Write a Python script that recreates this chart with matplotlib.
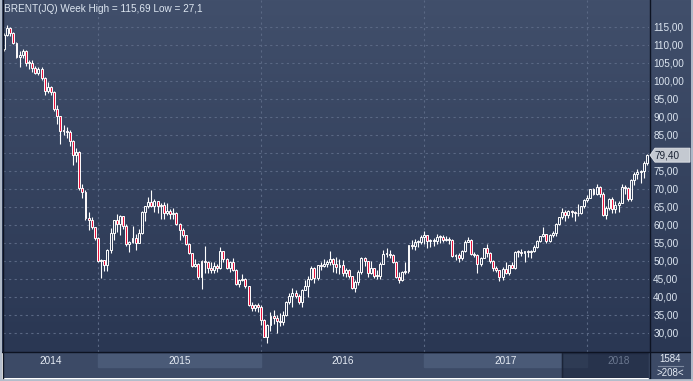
import numpy as np
import matplotlib.pyplot as plt
from matplotlib.patches import Rectangle, Polygon

plt.rcParams['font.family'] = ['Liberation Sans', 'DejaVu Sans']

# weekly candles, first week starts 9 Jun 2014
first_open = 109.0
close = [
    112.9, 114.8, 113.3, 110.6, 106.7, 107.2, 108.4, 105.0, 105.0, 103.5, 102.3, 103.2, 100.8, 97.1, 98.4,
    97.0, 92.3, 90.2, 86.2, 86.1, 85.9, 83.4, 79.4, 80.4, 70.2, 69.1, 61.9, 61.4, 59.5, 56.4,
    # 2015
    50.1, 50.2, 48.8, 53.0, 57.8, 61.5, 60.2, 62.6, 59.7, 54.7, 55.3, 56.4, 55.0, 57.9, 63.5, 65.3, 66.5, 65.4,
    66.8, 65.4, 65.6, 63.3, 63.9, 63.0, 63.3, 60.3, 58.7, 57.1, 54.6, 52.2, 48.6, 49.2, 45.5, 50.1, 49.6, 48.1,
    47.5, 48.6, 48.1, 52.7, 50.5, 48.0, 49.6, 47.4, 43.6, 44.7, 44.9, 43.0, 37.9, 36.9, 37.9, 37.3,
    # 2016
    33.6, 28.9, 32.2, 34.7, 34.1, 33.4, 33.0, 35.1, 38.7, 40.4, 41.2, 40.4, 38.7, 41.9, 43.1, 45.1, 48.1, 45.4,
    48.8, 48.7, 49.3, 49.6, 50.5, 49.2, 48.4, 49.0, 46.8, 47.6, 45.7, 42.5, 44.3, 47.0, 50.9, 49.9, 46.8, 48.0,
    45.8, 45.9, 49.2, 51.9, 51.95, 51.8, 49.7, 45.6, 44.75, 46.9, 47.2, 54.5, 54.3, 55.2, 55.2, 56.8,
    # 2017
    57.1, 55.45, 55.5, 55.5, 56.8, 56.7, 55.8, 56.0, 55.9, 51.4, 51.8, 50.8, 52.8, 55.2, 55.9, 52.0, 51.7, 49.1,
    50.8, 53.6, 52.15, 49.95, 48.15, 47.4, 45.5, 47.9, 46.7, 48.9, 48.1, 52.5, 52.4, 52.1, 52.7, 52.4, 52.75,
    53.8, 55.6, 56.9, 57.5, 55.6, 57.2, 57.75, 60.4, 62.1, 63.5, 62.7, 63.9, 63.7, 63.4, 63.2, 65.25, 66.9,
    # 2018
    67.6, 69.9, 68.6, 70.5, 68.6, 62.8, 64.8, 67.3, 64.4, 65.5, 66.2, 70.45, 70.3, 67.1, 72.6, 74.1, 74.6,
    74.9, 77.1, 79.4,
]
high = [
    113.3, 115.69, 115.0, 113.5, 110.9, 108.4, 108.9, 108.6, 105.8, 105.8, 104.2, 103.9, 103.8, 101.0, 99.7,
    98.6, 97.3, 93.3, 90.3, 87.8, 87.3, 86.3, 83.6, 81.4, 80.6, 71.5, 69.6, 63.6, 62.2, 59.5,
    # 2015
    56.6, 50.6, 50.2, 53.3, 59.1, 61.5, 63.0, 62.9, 62.6, 60.3, 55.6, 59.7, 57.6, 59.0, 64.0, 65.4, 67.8, 69.6,
    67.1, 66.8, 66.0, 66.4, 66.1, 64.5, 64.6, 63.5, 60.6, 59.3, 57.2, 55.0, 52.3, 50.6, 49.4, 50.2, 54.2, 50.0,
    49.8, 49.8, 49.2, 54.0, 52.8, 50.7, 50.0, 50.9, 47.7, 45.1, 46.3, 45.3, 43.0, 38.6, 38.1, 38.2,
    # 2016
    37.8, 34.0, 32.4, 35.8, 36.4, 35.0, 35.6, 36.0, 38.9, 41.2, 42.5, 41.9, 40.9, 42.2, 44.7, 45.9, 48.5, 48.2,
    48.9, 49.6, 50.5, 50.2, 52.9, 50.9, 51.2, 50.5, 50.3, 48.0, 47.9, 45.8, 44.8, 47.4, 51.2, 51.2, 50.0, 49.9,
    48.1, 47.6, 49.6, 53.0, 53.7, 53.1, 52.0, 49.9, 47.0, 47.3, 49.8, 54.5, 55.9, 56.2, 55.7, 57.1,
    # 2017
    58.4, 57.1, 56.2, 56.4, 57.4, 57.3, 57.3, 57.0, 56.8, 56.1, 52.0, 52.1, 53.1, 55.9, 56.7, 56.0, 52.4, 51.9,
    51.0, 53.7, 54.7, 52.6, 50.2, 48.6, 47.5, 48.3, 49.7, 49.0, 49.8, 52.7, 53.0, 53.3, 52.7, 53.1, 53.1,
    54.5, 55.7, 56.9, 59.5, 57.5, 57.4, 58.4, 60.5, 62.3, 64.6, 64.1, 64.1, 64.3, 63.8, 65.8, 65.3, 67.1,
    # 2018
    68.3, 70.05, 70.4, 71.3, 70.8, 69.2, 65.2, 67.4, 67.7, 66.6, 66.6, 71.3, 71.0, 70.6, 72.7, 74.8, 75.5,
    75.3, 77.8, 79.6,
]
low = [
    108.4, 112.5, 112.6, 110.2, 106.3, 104.0, 106.5, 104.3, 103.3, 102.4, 101.9, 101.6, 100.3, 96.2, 96.8,
    96.2, 91.6, 88.1, 82.6, 84.9, 84.2, 82.0, 76.8, 77.5, 69.8, 67.5, 61.3, 58.5, 59.0, 55.9,
    # 2015
    49.7, 45.2, 47.3, 47.1, 52.2, 55.7, 58.1, 57.3, 59.0, 54.3, 52.5, 55.1, 53.0, 54.9, 57.6, 61.2, 64.8, 65.0,
    63.5, 63.4, 61.6, 61.6, 62.8, 61.6, 61.6, 60.0, 55.9, 56.8, 54.4, 51.9, 48.2, 48.4, 45.1, 42.2, 46.6, 46.7,
    46.8, 46.6, 47.0, 47.9, 49.6, 47.8, 47.0, 47.1, 43.3, 42.7, 44.4, 42.5, 37.6, 36.0, 36.1, 35.9,
    # 2016
    32.2, 28.8, 27.1, 30.6, 32.4, 30.0, 32.0, 32.2, 34.7, 38.1, 37.3, 39.7, 38.1, 37.3, 41.9, 40.1, 44.6, 43.8,
    44.8, 47.6, 48.2, 48.4, 49.0, 46.9, 46.6, 46.4, 45.8, 45.6, 45.4, 42.2, 41.5, 43.2, 46.5, 48.5, 45.6, 46.4,
    45.4, 45.1, 45.1, 49.2, 51.0, 50.7, 49.4, 45.4, 43.9, 44.5, 46.3, 46.6, 53.3, 53.0, 54.0, 54.8,
    # 2017
    54.6, 53.6, 53.9, 54.3, 54.8, 54.9, 55.2, 55.6, 54.8, 51.2, 50.3, 49.7, 50.3, 52.6, 55.2, 51.7, 51.0, 46.6,
    48.6, 50.8, 51.0, 49.4, 47.3, 46.9, 44.4, 44.8, 46.3, 46.2, 48.0, 47.9, 51.2, 51.4, 49.7, 51.2, 50.7,
    52.4, 53.5, 55.4, 56.7, 55.1, 55.3, 56.8, 57.0, 59.9, 61.8, 61.1, 62.0, 62.1, 61.1, 62.5, 63.1, 64.6,
    # 2018
    66.3, 67.4, 68.2, 68.3, 67.8, 62.4, 61.8, 64.3, 63.3, 63.4, 63.6, 66.0, 68.7, 66.6, 66.7, 71.2, 72.7,
    71.8, 73.0, 76.8,
]
years = ['2014', '2015', '2016', '2017', '2018']
weeks_in_year = [30, 52, 52, 52, 20]
price_ticks = list(range(30, 120, 5))
last_price = 79.40
title = 'BRENT(JQ) Week High = 115,69 Low = 27,1'

W, H = 693, 381
BG_TOP, BG_BOT = '#414f6b', '#2a3753'
STRIP = '#3c4a66'
BAND = '#4a5a77'
GRID = '#5a6884'
TXT = '#dde6f1'
RED = '#e8123c'

c = np.array(close)
o = np.array([first_open] + close[:-1])
hi = np.array(high)
lo = np.array(low)
n = len(c)
idx = np.arange(n)
bounds = np.cumsum([0] + weeks_in_year)

fig = plt.figure(figsize=(W / 100, H / 100), dpi=100)

# background gradient, pixel coordinates
bg = fig.add_axes([0, 0, 1, 1], zorder=-10)
grad = np.linspace(0, 1, 256)[:, None]
top = np.array(plt.matplotlib.colors.to_rgb(BG_TOP))
bot = np.array(plt.matplotlib.colors.to_rgb(BG_BOT))
img = top[None, None, :] * (1 - grad[:, :, None]) + bot[None, None, :] * grad[:, :, None]
bg.imshow(img, extent=[0, W, 352, 0], aspect='auto')
bg.set_xlim(0, W)
bg.set_ylim(H, 0)
bg.axis('off')

# main chart
ax = fig.add_axes([3 / W, 1 - 352 / H, 646 / W, 352 / H])
ax.patch.set_alpha(0)
ax.set_xlim(-0.3, n - 0.3)
ax.set_ylim(24.72, 122.5)
for s in ax.spines.values():
    s.set_visible(False)
for p in price_ticks:
    ax.axhline(p, color=GRID, lw=0.8, ls=(0, (2, 3)), zorder=0)
for b in bounds[1:-1]:
    ax.axvline(b, color=GRID, lw=0.8, ls=(0, (2, 3)), zorder=0)

body_lo = np.minimum(o, c)
body_hi = np.maximum(o, c)
ax.vlines(idx, lo, body_lo, color='white', lw=0.8, zorder=2)
ax.vlines(idx, body_hi, hi, color='white', lw=0.8, zorder=2)
faces = [RED if cc < oo else 'none' for oo, cc in zip(o, c)]
ax.bar(idx, np.maximum(body_hi - body_lo, 0.25), bottom=body_lo, width=0.62,
       color=faces, edgecolor='white', linewidth=0.7, zorder=3)

# the last-price tag covers the tick label next to it
ax.yaxis.tick_right()
ax.set_yticks(price_ticks)
ax.set_yticklabels(['' if abs(p - last_price) < 2.5 else f'{p:.2f}'.replace('.', ',')
                    for p in price_ticks])
ax.tick_params(axis='y', length=0, pad=3, labelsize=7.2, labelcolor=TXT)
ax.set_xticks([])

# bottom year strip
sx = fig.add_axes([3 / W, 1 - 378 / H, 646 / W, 26 / H], sharex=ax)
sx.set_facecolor(STRIP)
sx.set_ylim(26, 0)
sx.axis('off')
sx.add_patch(Rectangle((-0.3, 0), n, 26, color=STRIP, zorder=0))
for k, yr in enumerate(years):
    a, b = bounds[k], bounds[k + 1]
    if k % 2 == 1:
        sx.add_patch(Rectangle((a, 2), b - a, 13, color=BAND, zorder=1))
    sx.text((a + b) / 2, 8.5, yr, ha='center', va='center', fontsize=7.2,
            color='#6b7890' if k == len(years) - 1 else '#e6ecf5', zorder=4)
nav_start = 178
sx.add_patch(Rectangle((nav_start, 1), n - nav_start, 25, color='#141d33', alpha=0.5, zorder=2))
sx.axvline(nav_start, color='#1b2438', lw=1, zorder=3)

# overlay: frame, right panel, title, price tag
ov = fig.add_axes([0, 0, 1, 1], zorder=10)
ov.patch.set_alpha(0)
ov.set_xlim(0, W)
ov.set_ylim(H, 0)
ov.axis('off')
ov.add_patch(Rectangle((649, 352), 44, 27, color=STRIP, zorder=0))
ov.plot([2, W], [352, 352], color='#0d1322', lw=1)
ov.plot([649.5, 649.5], [0, 379], color='#0d1322', lw=1)
ov.plot([2.5, 2.5], [0, 379], color='#0d1322', lw=1)
ov.plot([0.8, 0.8], [0, H], color='#b3bdcb', lw=1.4)
ov.plot([0, W], [380, 380], color='#b3bdcb', lw=2)
ov.plot([692.2, 692.2], [0, H], color='#b3bdcb', lw=1.4)

ov.text(4, 8.5, title, ha='left', va='center', fontsize=7.2, color=TXT)

ov.text(670, 359, '1584', ha='center', va='center', fontsize=7, color='#e6ecf5')
ov.plot([658, 683], [366, 366], color='#7e8aa0', lw=0.8)
ov.text(670, 373, '>208<', ha='center', va='center', fontsize=7, color='#e6ecf5')

ty = 27 + (115 - last_price) * 3.6
ov.add_patch(Polygon([(650, ty), (655, ty - 7), (690, ty - 7), (690, ty + 7), (655, ty + 7)],
                     closed=True, facecolor='#c4c9d1', edgecolor='#e3e6ea', lw=0.6, zorder=5))
ov.text(655, ty, f'{last_price:.2f}'.replace('.', ','), ha='left', va='center',
        fontsize=7.2, color='#1b2435', zorder=6)

fig.savefig('out.png', dpi=100)
